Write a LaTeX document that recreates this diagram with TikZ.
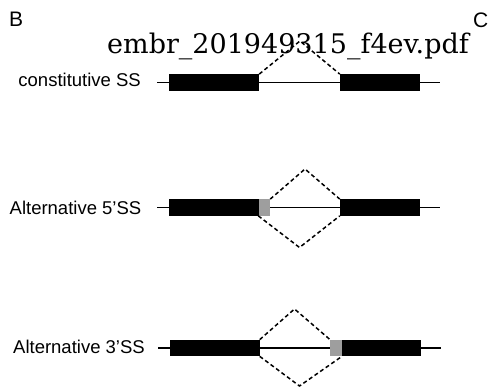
\documentclass[tikz,border=0pt]{standalone}
\usepackage{fontspec}
\setmainfont{Liberation Sans}
\newfontfamily\titlefont{DejaVu Serif}
\begin{document}
\begin{tikzpicture}[x=1pt,y=-1pt,
  exon/.style={rectangle,fill=black,inner sep=0pt,minimum height=16.3pt},
  alt/.style={rectangle,fill=black!38,inner sep=0pt,minimum height=16.3pt,minimum width=11.5pt},
  gene/.style={line width=1.7pt},
  splice/.style={line width=1.5pt,dash pattern=on 4pt off 2.8pt},
  lab/.style={anchor=base east,inner sep=0pt,font=\fontsize{18.5}{21}\selectfont},
  panel/.style={anchor=base west,inner sep=0pt,font=\fontsize{21}{24}\selectfont}]
\useasboundingbox (0,0) rectangle (491,387);
% panel letters and title
\node[panel] (B) at (9,27) {B};
\node[panel] (C) at (473,28) {C};
\node[anchor=base west,inner sep=0pt,font=\titlefont\fontsize{27}{30}\selectfont] (title) at (107,53.3) {embr\_201949315\_f4ev.pdf};
% row 1: constitutive
\node[lab] (l1) at (141,86.5) {constitutive SS};
\coordinate (g1a) at (157,82.5);
\coordinate (g1b) at (440,82.5);
\draw[gene] (g1a) -- (g1b);
\node[exon,minimum width=90pt] (e11) at (214,82.5) {};
\node[exon,minimum width=80pt] (e12) at (380,82.5) {};
\coordinate (t1) at (300,41);
\draw[splice] (e11.north east) -- (t1) -- (e12.north west);
% row 2: alternative 5'SS
\node[lab] (l2) at (141.5,215) {Alternative 5’SS};
\coordinate (g2a) at (157,207.5);
\coordinate (g2b) at (440,207.5);
\draw[gene] (g2a) -- (g2b);
\node[exon,minimum width=89.5pt] (e21) at (213.75,207.5) {};
\node[alt] (a2) at (264.25,207.5) {};
\node[exon,minimum width=80pt] (e22) at (380,207.5) {};
\coordinate (t2) at (305,169);
\coordinate (b2) at (299.5,247.5);
\draw[splice] (a2.north east) -- (t2) -- (e22.north west);
\draw[splice] (a2.south west) -- (b2) -- (e22.south west);
% row 3: alternative 3'SS
\node[lab] (l3) at (145,354) {Alternative 3’SS};
\coordinate (g3a) at (158,348);
\coordinate (g3b) at (441,348);
\draw[gene] (g3a) -- (g3b);
\node[exon,minimum width=89.5pt] (e31) at (214.75,348) {};
\node[alt] (a3) at (336,348) {};
\node[exon,minimum width=79.5pt] (e32) at (381.5,348) {};
\coordinate (t3) at (294.5,309);
\coordinate (b3) at (299.5,386);
\draw[splice] (e31.north east) -- (t3) -- (a3.north west);
\draw[splice] (e31.south east) -- (b3) -- (a3.south east);
\end{tikzpicture}
\end{document}
